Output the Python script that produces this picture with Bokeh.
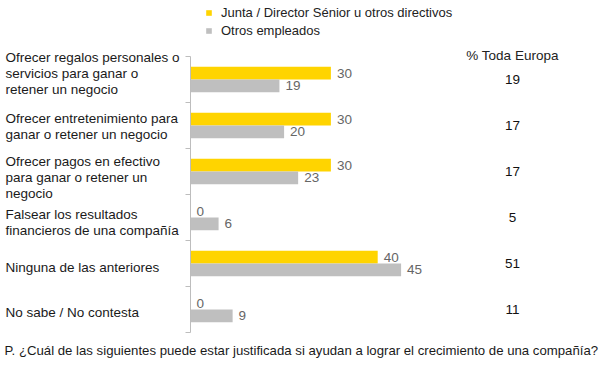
from bokeh.plotting import figure
from bokeh.models import (Range1d, LinearAxis, FixedTicker, CustomJSTickFormatter,
                          Legend, LegendItem, ColumnDataSource, Label)
from bokeh.core.properties import value
from bokeh.embed import file_html
from bokeh.resources import INLINE

# ---------------- data ----------------
categories = [
    "Ofrecer regalos personales o\nservicios para ganar o\nretener un negocio",
    "Ofrecer entretenimiento para\nganar o retener un negocio",
    "Ofrecer pagos en efectivo\npara ganar o retener un\nnegocio",
    "Falsear los resultados\nfinancieros de una compañía",
    "Ninguna de las anteriores",
    "No sabe / No contesta",
]
directivos = [30, 30, 30, 0, 40, 0]
empleados = [19, 20, 23, 6, 45, 9]
toda_europa = [19, 17, 17, 5, 51, 11]
series_names = ["Junta / Director Sénior u otros directivos", "Otros empleados"]
europa_header = "% Toda Europa"
question = ("P. ¿Cuál de las siguientes puede estar justificada si ayudan a lograr "
            "el crecimiento de una compañía?")

# ---------------- layout / style ----------------
W, H = 599, 359
PX = 4.68          # pixels per percentage point
AXIS_X = 190       # pixel position of the value axis
ROW_PX = 46        # pixel height of one category band
ROW0_Y = 79        # pixel centre of the first band (from top)
BAR_H = 0.276
OFF = 0.138
YELLOW = "#FFD400"
GRAY = "#BFBFBF"
FONT = "Liberation Sans"
FS = "13.5px"
LABEL_NUDGE_PX = [-6, 1, 6, 5, 4, 3]   # screen-pixel placement of the category text boxes

x_range = Range1d(-AXIS_X / PX, (W - AXIS_X) / PX)
y_range = Range1d((H - ROW0_Y) / ROW_PX, -ROW0_Y / ROW_PX)

p = figure(width=W, height=H, x_range=x_range, y_range=y_range,
           output_backend="svg", toolbar_location=None,
           x_axis_type=None, y_axis_type=None, min_border=0,
           outline_line_color=None, background_fill_color="white")

rows = list(range(len(categories)))
src = ColumnDataSource(dict(
    row=rows, cat=categories,
    d=directivos, e=empleados,
    yd=[r - OFF for r in rows], ye=[r + OFF for r in rows],
    dl=[str(v) for v in directivos], el=[str(v) for v in empleados],
    eu=[str(v) for v in toda_europa],
    nudge=LABEL_NUDGE_PX,
))

r1 = p.hbar(y="yd", left=0, right="d", height=BAR_H, fill_color=YELLOW,
            line_color=None, source=src)
r2 = p.hbar(y="ye", left=0, right="e", height=BAR_H, fill_color=GRAY,
            line_color=None, source=src)

val_style = dict(x_offset=6, text_align="left", text_baseline="middle",
                 text_font=value(FONT), text_font_size=FS, text_color="#666666")
p.text(x="d", y="yd", text="dl", source=src, **val_style)
p.text(x="e", y="ye", text="el", source=src, **val_style)

# category labels (left aligned)
p.text(x=x_range.start + 5 / PX, y="row", text="cat", source=src, y_offset="nudge",
       text_align="left", text_baseline="middle", text_line_height=1.07,
       text_font=value(FONT), text_font_size=FS, text_color="#1a1a1a")

# right column: whole Europe
eu_x = (512 - AXIS_X) / PX
p.text(x=eu_x, y="row", text="eu", source=src, text_align="center",
       text_baseline="middle", text_font=value(FONT), text_font_size=FS,
       text_color="#111111")
p.add_layout(Label(x=eu_x, y=-24 / ROW_PX, text=europa_header, text_align="center",
                   text_baseline="middle", text_font=FONT, text_font_size=FS,
                   text_color="#222222"))

# question footer
p.add_layout(Label(x=x_range.start + 4 / PX, y=(350 - ROW0_Y) / ROW_PX, text=question,
                   text_align="left", text_baseline="middle", text_font=FONT,
                   text_font_size="13.2px", text_color="#1a1a1a"))

# category axis with ticks at band boundaries
n = len(categories)
yax = LinearAxis(fixed_location=0,
                 ticker=FixedTicker(ticks=[r - 0.5 for r in range(n + 1)]),
                 bounds=(-0.5, n - 0.5),
                 major_tick_out=5, major_tick_in=0,
                 minor_tick_out=0, minor_tick_in=0,
                 axis_line_color="#BDBDBD", major_tick_line_color="#BDBDBD",
                 formatter=CustomJSTickFormatter(code="return ''"))
p.add_layout(yax, "left")

legend = Legend(items=[LegendItem(label=series_names[0], renderers=[r1]),
                       LegendItem(label=series_names[1], renderers=[r2])],
                location=(205, H - 39), orientation="vertical",
                glyph_width=7, glyph_height=7, label_standoff=9,
                label_height=18, spacing=0, padding=0, margin=0,
                border_line_color=None, background_fill_alpha=0,
                label_text_font=FONT, label_text_font_size="13px",
                label_text_color="#222222")
p.add_layout(legend, "center")

open("out.html", "w").write(file_html(p, INLINE))
